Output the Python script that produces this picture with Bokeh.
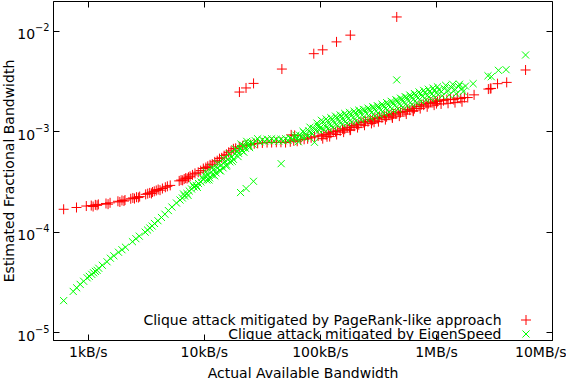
from bokeh.plotting import figure
from bokeh.models import (Range1d, FixedTicker, LogAxis, CustomJSTickFormatter,
                          Legend, LegendItem, Label, Title)
from bokeh.core.properties import value
from bokeh.embed import file_html
from bokeh.resources import INLINE

FONT = "DejaVu Sans"

x_ticks = [1e3, 1e4, 1e5, 1e6, 1e7]
x_tick_labels = ["1kB/s", "10kB/s", "100kB/s", "1MB/s", "10MB/s"]
y_ticks = [1e-5, 1e-4, 1e-3, 1e-2]

x_title = "Actual Available Bandwidth"
y_title = "Estimated Fractional Bandwidth"
red_label = "Clique attack mitigated by PageRank-like approach"
green_label = "Clique attack mitigated by EigenSpeed"

red_x = [
    613, 791, 961, 1060, 1100, 1150, 1190, 1220, 1420, 1480, 1540, 1800, 1870, 1950, 2030, 2070,
    2320, 2420, 2500, 2600, 2700, 2770, 3120, 3250, 3380, 3500, 3570, 3700, 3850, 4000, 4150, 4350,
    4610, 4800, 5080, 6070, 6300, 6500, 6700, 6900, 7100, 7300, 7530, 7900, 8300, 8850, 9300, 9800, 10300,
    10700, 11200, 11700, 12300, 12900, 13500, 14100, 14800, 15500, 16200, 17000, 17800, 18600, 20000,
    21400, 22900, 25100, 26900, 28800, 31600, 34700, 38000, 41700, 45700, 50100, 55000, 56000, 58900,
    60000, 63100, 67600, 72400, 77600, 83200, 89100, 95500,
    102000, 107000, 112000, 114000, 117000, 123000, 129000, 135000, 141000, 148000,
    155000, 162000, 170000, 178000, 180000, 186000, 195000, 204000, 214000, 224000,
    234000, 245000, 257000, 269000, 282000, 290000, 295000, 309000, 324000, 339000,
    355000, 372000, 389000, 407000, 417000, 427000, 447000, 468000, 490000, 513000,
    537000, 562000, 589000, 617000, 631000, 646000, 676000, 708000, 741000, 776000,
    813000, 851000, 891000, 933000, 977000, 1000000, 1020000, 1070000, 1150000, 1230000,
    1320000, 1410000, 1510000, 1620000, 1740000, 1860000,
    104700, 120200, 138000, 158500, 182000, 208900, 239900, 275400, 316200, 363100,
    416900, 478600, 549500, 631000, 724400, 831800, 955000, 1096000, 1259000, 1445000, 1660000,
    2110000, 2800000, 2910000, 2950000, 3360000, 4030000, 5860000,
    20050, 22860, 26540, 46560, 87700, 104600, 137700, 181100, 454800,
]
red_y = [
    1.69e-4, 1.76e-4, 1.82e-4, 1.84e-4, 1.80e-4, 1.87e-4, 1.85e-4, 1.89e-4, 1.93e-4, 1.90e-4, 1.96e-4,
    2.03e-4, 2.00e-4, 2.07e-4, 2.04e-4, 2.09e-4, 2.15e-4, 2.19e-4, 2.16e-4, 2.23e-4, 2.21e-4, 2.26e-4,
    2.38e-4, 2.42e-4, 2.46e-4, 2.43e-4, 2.51e-4, 2.55e-4, 2.60e-4, 2.66e-4, 2.62e-4, 2.72e-4,
    2.80e-4, 2.86e-4, 2.92e-4, 3.24e-4, 3.30e-4, 3.28e-4, 3.38e-4, 3.45e-4, 3.42e-4, 3.52e-4, 3.60e-4,
    3.72e-4, 3.85e-4, 3.95e-4, 4.10e-4, 4.30e-4, 4.40e-4,
    4.53e-4, 4.68e-4, 4.76e-4, 5.01e-4, 5.15e-4, 5.40e-4, 5.50e-4, 5.78e-4, 5.96e-4, 6.24e-4,
    6.46e-4, 6.76e-4, 6.84e-4, 7.08e-4, 7.24e-4, 7.38e-4, 7.45e-4, 7.59e-4, 7.66e-4, 7.73e-4,
    7.80e-4, 7.80e-4, 7.85e-4, 7.85e-4, 7.80e-4, 7.94e-4, 9.30e-4, 8.13e-4, 9.20e-4, 8.04e-4,
    8.32e-4, 8.41e-4, 8.51e-4, 8.71e-4, 8.91e-4, 9.06e-4,
    9.12e-4, 9.44e-4, 9.33e-4, 8.91e-4, 9.77e-4, 9.66e-4, 1.01e-3, 1.00e-3, 1.035e-3, 1.02e-3,
    1.07e-3, 1.06e-3, 1.11e-3, 1.10e-3, 1.035e-3, 1.15e-3, 1.135e-3, 1.19e-3, 1.175e-3, 1.245e-3,
    1.23e-3, 1.27e-3, 1.26e-3, 1.32e-3, 1.30e-3, 1.245e-3, 1.365e-3, 1.35e-3, 1.40e-3, 1.38e-3,
    1.445e-3, 1.41e-3, 1.48e-3, 1.46e-3, 1.40e-3, 1.51e-3, 1.50e-3, 1.57e-3, 1.55e-3, 1.60e-3,
    1.585e-3, 1.66e-3, 1.64e-3, 1.72e-3, 1.62e-3, 1.70e-3, 1.78e-3, 1.80e-3, 1.86e-3, 1.84e-3,
    1.93e-3, 1.905e-3, 1.97e-3, 1.95e-3, 2.02e-3, 1.905e-3, 2.00e-3, 2.07e-3, 2.04e-3, 2.09e-3,
    2.11e-3, 2.09e-3, 2.16e-3, 2.14e-3, 2.19e-3, 2.19e-3,
    8.53e-4, 8.95e-4, 9.38e-4, 9.91e-4, 1.045e-3, 1.10e-3, 1.16e-3, 1.21e-3, 1.26e-3, 1.32e-3,
    1.37e-3, 1.43e-3, 1.50e-3, 1.60e-3, 1.70e-3, 1.77e-3, 1.84e-3, 1.89e-3, 1.92e-3, 1.95e-3, 1.99e-3,
    2.33e-3, 2.66e-3, 2.69e-3, 2.70e-3, 3.01e-3, 3.10e-3, 4.12e-3,
    2.485e-3, 2.73e-3, 3.03e-3, 4.21e-3, 5.99e-3, 6.54e-3, 7.85e-3, 9.16e-3, 1.39e-2,
]

green_x = [
    613, 741, 794, 851, 912, 977, 1020, 1070, 1110, 1150, 1190, 1230, 1320, 1450, 1550, 1660, 1820,
    1950, 2090, 2400, 2570, 2750, 3090, 3240, 3390, 3550, 3720, 3980, 4270, 4570, 4900, 5250, 5750,
    6170, 6460, 6760, 7080, 7410, 7760, 8130, 8510, 8910, 9330, 9770,
    6610, 7240, 7940, 8710, 9550,
    10200, 10500, 10700, 11100, 11500, 11700, 12200, 12600, 13000, 13500,
    14000, 14500, 15000, 15500, 16000, 16600, 17200, 17800, 18400, 19100,
    19700, 20400, 21100, 21900, 22600, 23400, 24300, 25100, 26300, 27500,
    28800, 30200, 31600, 33100, 34700, 36300, 38000, 39800, 41700, 43700,
    45700, 47900, 50100, 52500, 55000, 57500, 60300, 63100, 66100, 69200,
    72400, 75900, 79400, 83200, 87100, 91200, 95500,
    10350, 10960, 11610, 12300, 13030, 13800, 14620, 15490, 16410, 17380,
    18410, 19500, 20650, 21880, 23170, 24550,
    61600, 64600, 70800, 74100, 81300, 85100, 93300, 97700,
    100000, 105000, 110000, 115000, 120000, 126000, 132000, 138000, 145000, 151000,
    158000, 166000, 174000, 182000, 191000, 200000, 209000, 219000, 229000, 240000,
    251000, 263000, 275000, 288000, 302000, 316000, 331000, 347000, 363000, 380000,
    398000, 417000, 437000, 457000, 479000, 501000, 525000, 550000, 575000, 603000,
    631000, 661000, 692000, 724000, 759000, 794000, 832000, 871000, 912000, 955000,
    1000000, 1050000, 1100000, 1170000, 1260000, 1350000, 1450000, 1550000, 1660000, 1780000,
    102000, 107000, 112000, 117500, 123000, 129000, 135000, 141000, 148000, 155000,
    162000, 170000, 178000, 186000, 195000, 204000, 214000, 224000, 234000, 245000,
    257000, 269000, 282000, 295000, 309000, 324000, 339000, 355000, 372000, 389000,
    407000, 427000, 447000, 468000, 490000, 513000, 537000, 562000, 589000, 617000,
    646000, 676000, 708000, 741000, 776000, 813000, 851000, 891000, 933000, 977000,
    1020000, 1120000, 1200000, 1290000, 1380000, 1480000, 1580000, 1700000,
    2070000, 2780000, 2970000, 3420000, 3980000, 5860000,
    454800, 45900, 26500, 22900, 20500, 88900,
]
green_y = [
    2.08e-5, 2.57e-5, 2.79e-5, 3.02e-5, 3.24e-5, 3.51e-5, 3.63e-5, 3.80e-5, 3.94e-5, 4.07e-5,
    4.17e-5, 4.37e-5, 4.68e-5, 5.07e-5, 5.50e-5, 5.82e-5, 6.31e-5, 6.68e-5, 7.08e-5, 8.04e-5,
    8.61e-5, 9.12e-5, 1.00e-4, 1.05e-4, 1.10e-4, 1.15e-4, 1.22e-4, 1.30e-4, 1.40e-4, 1.51e-4,
    1.64e-4, 1.78e-4, 1.95e-4, 2.09e-4, 2.19e-4, 2.29e-4, 2.43e-4, 2.57e-4, 2.69e-4, 2.82e-4,
    2.92e-4, 3.05e-4, 3.16e-4, 3.35e-4,
    2.40e-4, 2.32e-4, 2.95e-4, 2.79e-4, 3.51e-4,
    3.63e-4, 3.31e-4, 3.72e-4, 3.47e-4, 3.98e-4, 3.72e-4, 4.27e-4, 3.89e-4, 4.37e-4, 4.12e-4,
    4.68e-4, 4.37e-4, 5.01e-4, 4.68e-4, 5.31e-4, 5.01e-4, 5.62e-4, 5.31e-4, 6.03e-4, 6.46e-4,
    6.10e-4, 6.84e-4, 6.46e-4, 7.24e-4, 6.84e-4, 7.59e-4, 7.24e-4, 7.85e-4, 7.50e-4, 8.13e-4,
    8.51e-4, 7.94e-4, 8.32e-4, 8.04e-4, 8.41e-4, 8.13e-4, 8.51e-4, 8.13e-4, 8.41e-4, 8.04e-4,
    8.41e-4, 8.13e-4, 8.51e-4, 8.22e-4, 8.61e-4, 8.32e-4, 8.91e-4, 8.61e-4, 9.23e-4, 8.91e-4,
    9.77e-4, 9.33e-4, 1.02e-3, 9.77e-4, 1.08e-3, 1.035e-3, 1.135e-3,
    4.00e-4, 3.31e-4, 4.37e-4, 3.63e-4, 4.83e-4, 4.06e-4, 5.41e-4, 4.54e-4, 6.05e-4, 5.08e-4,
    6.75e-4, 5.66e-4, 7.52e-4, 6.25e-4, 8.02e-4, 6.95e-4,
    9.23e-4, 7.94e-4, 1.01e-3, 8.71e-4, 1.11e-3, 9.55e-4, 1.22e-3, 1.035e-3,
    1.10e-3, 1.26e-3, 1.135e-3, 1.29e-3, 1.175e-3, 1.33e-3, 1.22e-3, 1.38e-3, 1.26e-3, 1.43e-3,
    1.30e-3, 1.46e-3, 1.35e-3, 1.51e-3, 1.38e-3, 1.55e-3, 1.43e-3, 1.60e-3, 1.46e-3, 1.64e-3,
    1.51e-3, 1.68e-3, 1.55e-3, 1.74e-3, 1.60e-3, 1.78e-3, 1.64e-3, 1.84e-3, 1.70e-3, 1.905e-3,
    1.76e-3, 1.97e-3, 1.82e-3, 2.04e-3, 1.88e-3, 2.11e-3, 1.95e-3, 2.19e-3, 2.02e-3, 2.26e-3,
    2.09e-3, 2.32e-3, 2.16e-3, 2.40e-3, 2.24e-3, 2.455e-3, 2.29e-3, 2.51e-3, 2.37e-3, 2.57e-3,
    2.43e-3, 2.63e-3, 2.51e-3, 2.69e-3, 2.57e-3, 2.75e-3, 2.63e-3, 2.82e-3, 2.69e-3, 2.85e-3,
    1.30e-3, 1.05e-3, 1.34e-3, 1.08e-3, 1.38e-3, 1.11e-3, 1.43e-3, 1.15e-3, 1.47e-3, 1.19e-3,
    1.52e-3, 1.22e-3, 1.56e-3, 1.25e-3, 1.60e-3, 1.28e-3, 1.64e-3, 1.32e-3, 1.67e-3, 1.35e-3,
    1.72e-3, 1.38e-3, 1.77e-3, 1.43e-3, 1.82e-3, 1.47e-3, 1.88e-3, 1.52e-3, 1.95e-3, 1.57e-3,
    2.01e-3, 1.63e-3, 2.08e-3, 1.69e-3, 2.16e-3, 1.75e-3, 2.24e-3, 1.81e-3, 2.32e-3, 1.87e-3,
    2.40e-3, 1.94e-3, 2.49e-3, 2.01e-3, 2.58e-3, 2.08e-3, 2.65e-3, 2.14e-3, 2.72e-3, 2.19e-3,
    2.80e-3, 2.28e-3, 2.90e-3, 2.33e-3, 2.97e-3, 2.39e-3, 2.97e-3, 2.51e-3,
    3.01e-3, 3.61e-3, 3.53e-3, 4.09e-3, 4.15e-3, 5.81e-3,
    3.28e-3, 4.81e-4, 3.21e-4, 2.72e-4, 2.48e-4, 7.85e-4,
]

# layout (figure pixels)
W, H = 566, 380
BL, BR, BT = 51, 14, 1
FRAME_W = W - BL - BR

p = figure(width=W, height=H, x_axis_type="log", y_axis_type="log",
           x_range=Range1d(10 ** 2.70, 1e7), y_range=Range1d(10 ** -5.079, 10 ** -1.703),
           output_backend="svg", toolbar_location=None,
           min_border_left=BL, min_border_right=BR, min_border_top=BT, min_border_bottom=10,
           background_fill_color="white", border_fill_color="white")
p.grid.visible = False
p.outline_line_color = "black"
p.outline_line_width = 1

for ax in (p.xaxis[0], p.yaxis[0]):
    ax.major_tick_in = 6
    ax.major_tick_out = 0
    ax.minor_tick_line_color = None
    ax.axis_line_color = "black"
    ax.major_tick_line_color = "black"
    ax.major_label_text_font = FONT
    ax.major_label_text_font_size = "14px"
    ax.major_label_text_color = "black"
p.xaxis.major_label_standoff = 3
p.yaxis.major_label_standoff = 0

p.xaxis.ticker = FixedTicker(ticks=x_ticks)
p.xaxis.formatter = CustomJSTickFormatter(
    args=dict(vals=x_ticks, labs=x_tick_labels),
    code="const i = vals.indexOf(tick); return i < 0 ? '' : labs[i];")

blank = CustomJSTickFormatter(code="return '';")
top = LogAxis(ticker=FixedTicker(ticks=x_ticks), formatter=blank, major_tick_in=6, major_tick_out=0,
              minor_tick_line_color=None, axis_line_color=None, major_label_standoff=0,
              major_label_text_font_size="0px")
right = LogAxis(ticker=FixedTicker(ticks=y_ticks), formatter=blank, major_tick_in=6, major_tick_out=0,
                minor_tick_line_color=None, axis_line_color=None, major_label_standoff=0,
                major_label_text_font_size="0px")
p.add_layout(top, "above")
p.add_layout(right, "right")

# axis titles as side-panel titles
p.add_layout(Title(text=y_title, align="center", vertical_align="bottom", text_font=FONT,
                   text_font_size="14px", text_font_style="normal", text_color="black",
                   standoff=-4, offset=0), "left")
p.add_layout(Title(text=x_title, align="center", text_font=FONT, text_font_size="14px",
                   text_font_style="normal", text_color="black", standoff=0, offset=0), "below")

r_red = p.scatter(red_x, red_y, marker="cross", size=10, line_color="#ff0000", line_width=1)
r_green = p.scatter(green_x, green_y, marker="x", size=10, line_color="#00ff00", line_width=1)

# legend: text right-aligned, sample to its right (gnuplot style)
for r, ly in ((r_red, 8.5), (r_green, -5.5)):
    leg = Legend(items=[LegendItem(label=value(""), renderers=[r])], location=(FRAME_W - 41.5, ly),
                 glyph_width=25, glyph_height=25, padding=0, margin=0, spacing=0,
                 label_standoff=0, label_text_font_size="1px",
                 background_fill_alpha=0, border_line_alpha=0)
    p.add_layout(leg)

for txt, ly in ((red_label, 21), (green_label, 7)):
    p.add_layout(Label(x=FRAME_W - 53, y=ly, x_units="screen", y_units="screen", text=txt,
                       text_align="right", text_baseline="middle", text_font=FONT,
                       text_font_size="14px", text_color="black"))

open("out.html", "w").write(file_html(p, INLINE))
